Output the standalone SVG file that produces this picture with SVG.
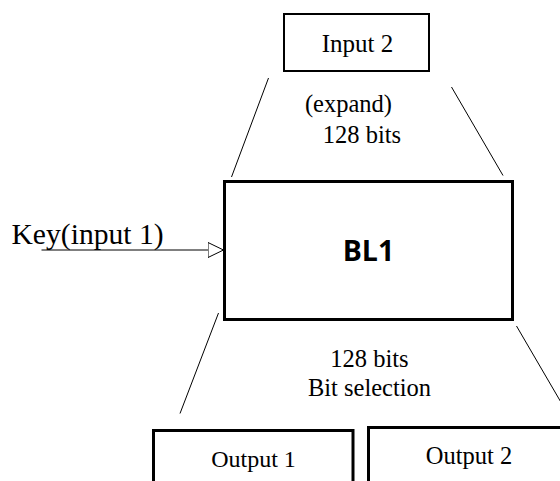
<svg xmlns="http://www.w3.org/2000/svg" width="560" height="481" viewBox="0 0 560 481">
<style>
  .box { fill: #fff; stroke: #000; }
  .ln { stroke: #000; stroke-width: 1; fill: none; }
  .t { font-family: "Liberation Serif", "Times New Roman", serif; fill: #000; text-anchor: middle; }
</style>
<defs>
  <marker id="tri" markerUnits="userSpaceOnUse" markerWidth="18" markerHeight="18" refX="16" refY="8" orient="auto">
    <path d="M0.5,0.5 L16,8 L0.5,15.5 Z" fill="#fff" stroke="#000" stroke-width="1"/>
  </marker>
</defs>
<rect width="560" height="481" fill="#fff"/>
<g id="connectors">
  <line class="ln" x1="268.5" y1="78" x2="231.5" y2="177"/>
  <line class="ln" x1="451.5" y1="87" x2="503" y2="175.5"/>
  <line class="ln" x1="218.5" y1="313" x2="180" y2="413.5"/>
  <line class="ln" x1="516.5" y1="326" x2="562" y2="404"/>
  <line class="ln" x1="41.5" y1="250" x2="223.5" y2="250" marker-end="url(#tri)"/>
</g>
<g id="key">
  <text class="t" x="11.5" y="244" font-size="29.6" style="text-anchor:start">Key(input 1)</text>
</g>
<g id="input2">
  <rect class="box" x="284" y="14" width="145" height="57" stroke-width="2"/>
  <text class="t" x="357.5" y="51.5" font-size="25">Input 2</text>
</g>
<g id="label-top">
  <text class="t" x="348.5" y="111.5" font-size="24.5">(expand)</text>
  <text class="t" x="362" y="143.3" font-size="24.5">128 bits</text>
</g>
<g id="bl1">
  <rect class="box" x="224.5" y="181.5" width="288" height="138" stroke-width="3"/>
  <text x="368.5" y="260.5" font-family="'Open Sans', 'Liberation Sans', sans-serif" font-weight="bold" font-size="28.5" text-anchor="middle" fill="#000">BL1</text>
</g>
<g id="label-bottom">
  <text class="t" x="369.5" y="367.3" font-size="24.5">128 bits</text>
  <text class="t" x="369.5" y="396" font-size="24.5">Bit selection</text>
</g>
<g id="output1">
  <rect class="box" x="153.5" y="430.5" width="199.5" height="60" stroke-width="3"/>
  <text class="t" x="253.5" y="466.5" font-size="24">Output 1</text>
</g>
<g id="output2">
  <rect class="box" x="368.5" y="427.5" width="200" height="60" stroke-width="3"/>
  <text class="t" x="469" y="464" font-size="24.5">Output 2</text>
</g>
</svg>
